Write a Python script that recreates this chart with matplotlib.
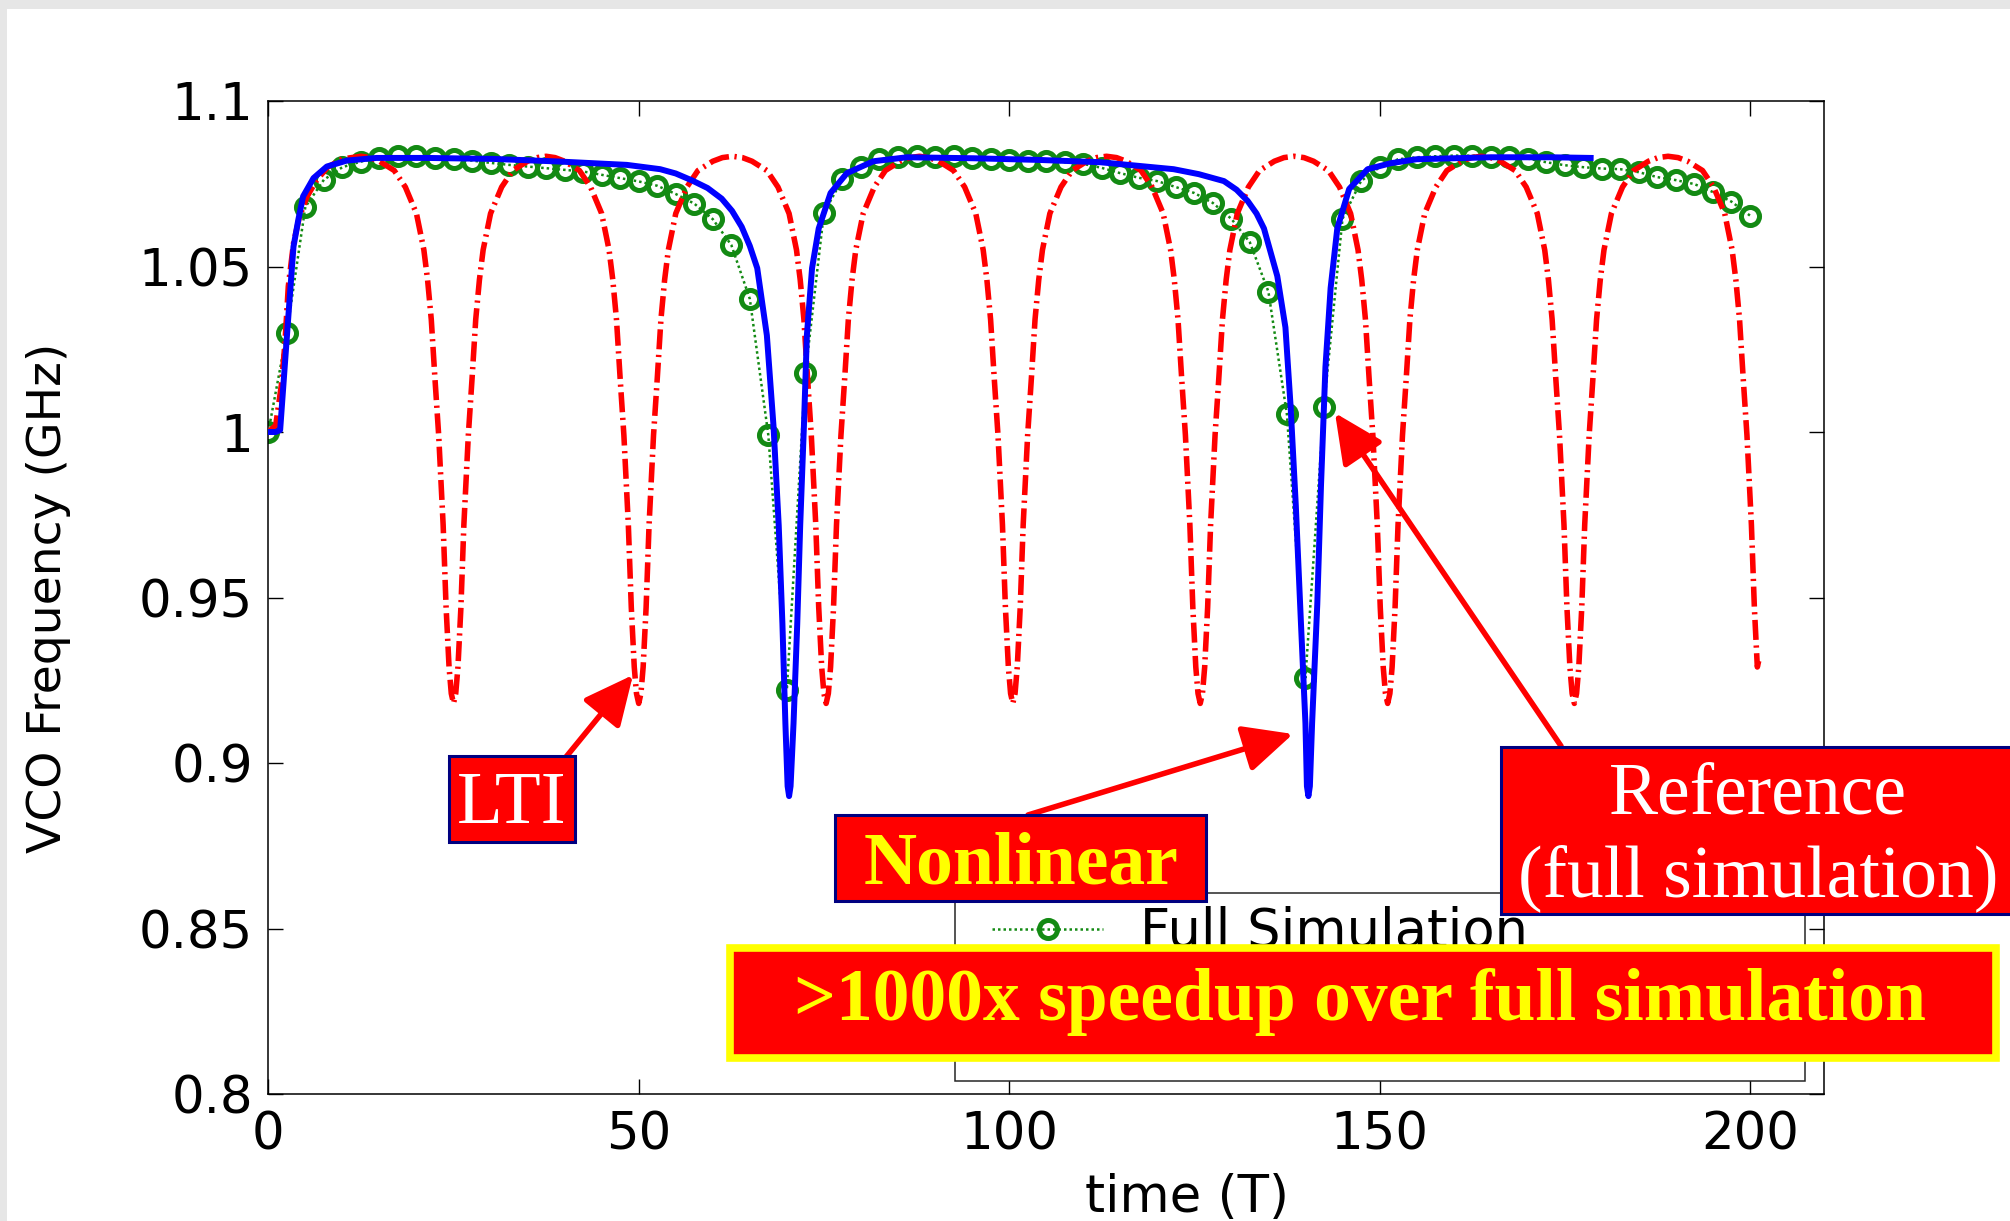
import matplotlib
matplotlib.use('Agg')
import matplotlib.pyplot as plt
import numpy as np
from matplotlib.patches import Rectangle, FancyArrowPatch

# ---------------- data ----------------
# full simulation: one marker every 2.5 T
full_t = np.arange(0, 202.5, 2.5)
full_f = [1.000, 1.030, 1.068, 1.0762, 1.080, 1.0817, 1.0828, 1.0833, 1.0833, 1.0828,
          1.0825, 1.0820, 1.0813, 1.0807, 1.0802, 1.0797, 1.0792, 1.0787, 1.0777, 1.0767,
          1.0757, 1.0744, 1.0719, 1.0690, 1.0643, 1.0565, 1.0402, 0.9990, 0.9222, 1.0177,
          1.0662, 1.0764, 1.0800, 1.0824, 1.0830, 1.0833, 1.0832, 1.0833, 1.0828, 1.0826,
          1.0823, 1.0820, 1.0818, 1.0815, 1.0810, 1.0798, 1.0782, 1.0768, 1.0758, 1.0740,
          1.0722, 1.0692, 1.0644, 1.0573, 1.0424, 1.0053, 0.9258, 1.0077, 1.0644, 1.0758,
          1.0800, 1.0824, 1.0830, 1.0833, 1.0835, 1.0835, 1.0832, 1.0830, 1.0826, 1.0815,
          1.0806, 1.0800, 1.0796, 1.0794, 1.0785, 1.0770, 1.0761, 1.0749, 1.0725, 1.0696,
          1.0654]

# nonlinear macromodel
nl_t = [0, 1.0, 1.6, 2.25, 2.9, 3.4, 4.05, 4.7, 6.1, 7.9,
        10.6, 14.6, 21.4, 30.4, 39.4, 48.4, 52.9, 55.0, 57.2, 59.3,
        61.2, 62.6, 63.9, 65.0, 66.0, 67.3, 68.2, 68.9, 69.4, 69.8,
        70.1, 70.3, 70.5, 70.9, 71.4, 71.8, 72.3, 72.7, 73.4, 74.3,
        75.9, 78.1, 81.7, 86.2, 95.2, 104.0, 112.3, 122.2, 125.6, 129.0,
        130.7, 132.2, 133.4, 134.4, 136.2, 137.3, 138.0, 138.7, 139.4, 140.0,
        140.2, 140.4, 140.6, 140.9, 141.6, 142.1, 142.7, 143.4, 144.3, 145.9,
        148.4, 151.5, 155.0, 165.0, 173.1, 178.5]
nl_f = [1.000, 1.000, 1.0006, 1.0208, 1.0409, 1.056, 1.0641, 1.0712, 1.0767, 1.0802,
        1.0820, 1.0828, 1.0828, 1.0825, 1.0817, 1.0807, 1.0794, 1.0781, 1.0760, 1.0737,
        1.0705, 1.0668, 1.0620, 1.0562, 1.0495, 1.0292, 1.0017, 0.9718, 0.9420, 0.9120,
        0.8930, 0.8900, 0.8930, 0.9120, 0.9420, 0.9718, 1.0017, 1.0292, 1.0495, 1.0615,
        1.0722, 1.0782, 1.0818, 1.0830, 1.0827, 1.0822, 1.0815, 1.0794, 1.0779, 1.0758,
        1.0732, 1.0698, 1.0660, 1.0615, 1.0471, 1.0316, 1.0077, 0.9778, 0.9420, 0.9120,
        0.8930, 0.8900, 0.8930, 0.9120, 0.9480, 0.9838, 1.0196, 1.0435, 1.0615, 1.0734,
        1.0794, 1.0812, 1.0824, 1.0830, 1.0830, 1.0828]

# LTI macromodel: start-up, then identical arches between the dips
lti_start_t = [0, 1.0, 1.8, 2.25, 2.7, 3.4, 4.2, 5.2, 6.5, 8.0, 10.0, 12.5]
lti_start_f = [1.000, 1.002, 1.0148, 1.027, 1.044, 1.057, 1.065, 1.071, 1.076, 1.080, 1.0825, 1.0833]
lti_dips = [25.0, 50.0, 75.3, 100.5, 125.8, 151.1, 176.3, 201.6]
arch_dt = [0.0, 0.3, 0.6, 1.0, 1.4, 2.0, 2.5, 3.0, 3.5, 4.0, 5.0, 6.5, 8.0, 10.0, 11.3]
arch_f = [0.918, 0.921, 0.929, 0.947, 0.972, 0.999, 1.016, 1.034, 1.046, 1.055, 1.066, 1.074, 1.079, 1.0818, 1.0829]
lti_peak = 1.0833
lti_end_t, lti_end_f = 201.2, 0.931

x_ticks = [0, 50, 100, 150, 200]
x_tick_labels = ['0', '50', '100', '150', '200']
y_ticks = [0.8, 0.85, 0.9, 0.95, 1.0, 1.05, 1.1]
y_tick_labels = ['0.8', '0.85', '0.9', '0.95', '1', '1.05', '1.1']

# build the LTI trace from the pieces above
lti_t, lti_f = list(lti_start_t), list(lti_start_f)
for k, m in enumerate(lti_dips):
    left = 12.5 if k == 0 else (lti_dips[k - 1] + m) / 2
    for dt, f in zip(arch_dt[::-1], arch_f[::-1]):
        if m - dt > left:
            lti_t.append(m - dt)
            lti_f.append(f)
    if k < len(lti_dips) - 1:
        right = (m + lti_dips[k + 1]) / 2
        for dt, f in zip(arch_dt[1:], arch_f[1:]):
            if m + dt < right:
                lti_t.append(m + dt)
                lti_f.append(f)
        lti_t.append(right)
        lti_f.append(lti_peak)
lti_t, lti_f = np.array(lti_t), np.array(lti_f)
keep = lti_t < lti_end_t
lti_t = np.append(lti_t[keep], lti_end_t)
lti_f = np.append(lti_f[keep], lti_end_f)

# ---------------- figure ----------------
W, H = 2010, 1221


def fx(x):
    return x / W


def fy(y):
    return 1 - y / H


fig = plt.figure(figsize=(W / 100, H / 100), dpi=100)
fig.patch.set_facecolor('#e6e6e6')
fig.add_artist(Rectangle((fx(7), 0), 1, fy(9), transform=fig.transFigure,
                         facecolor='white', edgecolor='none', zorder=-10))

ax = fig.add_axes([fx(268.3), fy(1094), 1555.7 / W, 993 / H])
green = '#138a13'
ax.plot(full_t, full_f, linestyle=(0, (1, 1.2)), lw=1.8, color=green,
        marker='o', ms=13, mfc='none', mec=green, mew=3.6, label='Full Simulation', zorder=2)
ax.plot(lti_t, lti_f, color='red', lw=4, linestyle=(0, (3.6, 1.0, 0.4, 1.0)),
        label='LTI macromodel', zorder=3)
ax.plot(nl_t, nl_f, color='blue', lw=4.3, label='Nonlinear macromodel', zorder=4)

ax.set_xlim(0, 210)
ax.set_ylim(0.8, 1.1)
ax.set_xticks(x_ticks)
ax.set_xticklabels(x_tick_labels)
ax.set_yticks(y_ticks)
ax.set_yticklabels(y_tick_labels)
ax.tick_params(direction='in', length=10.5, width=1, top=True, right=True, labelsize=37)
ax.tick_params(axis='x', pad=12)
ax.tick_params(axis='y', pad=11)
for s in ax.spines.values():
    s.set_linewidth(1.1)

ax.set_ylabel('VCO Frequency (GHz)', fontsize=34)
ax.yaxis.set_label_coords(-0.141, 0.5)
ax.yaxis.label.set_va('center')
ax.set_xlabel('time (T)', fontsize=37)
ax.xaxis.set_label_coords((1187 - 268.3) / 1555.7, (1094 - 1212) / 993)
ax.xaxis.label.set_va('baseline')

# legend (frame drawn separately to match the tight rows)
ax.add_patch(Rectangle((fx(955), fy(1081)), fx(1805) - fx(955), fy(893) - fy(1081),
                       transform=fig.transFigure, facecolor='white', edgecolor='#262626',
                       lw=1.1, zorder=4.5, clip_on=False))
ax.legend(loc='upper left', bbox_to_anchor=(fx(966), fy(880)), bbox_transform=fig.transFigure,
          frameon=False, fontsize=38, borderpad=0, handlelength=2.1, handletextpad=0.7,
          labelspacing=0.0, numpoints=1)

# ---------------- slide call-outs ----------------
serif = 'Liberation Serif'


def callout_box(x0, y0, x1, y1, edge, lw):
    fig.add_artist(Rectangle((fx(x0), fy(y1)), fx(x1) - fx(x0), fy(y0) - fy(y1),
                             transform=fig.transFigure, facecolor='#ff0000',
                             edgecolor=edge, lw=lw, zorder=6))


def arrow(x0, y0, x1, y1):
    fig.add_artist(FancyArrowPatch((fx(x0), fy(y0)), (fx(x1), fy(y1)), transform=fig.transFigure,
                                   arrowstyle='-|>,head_length=0.8,head_width=0.38',
                                   mutation_scale=38, lw=4, color='#ff0000',
                                   shrinkA=0, shrinkB=0, zorder=5))


arrow(566, 757, 633, 675)
arrow(1028, 815, 1293, 734)
arrow(1561, 746, 1335, 413)

callout_box(448.5, 755.5, 574.5, 841.5, '#000080', 2.2)
fig.text(fx(512), fy(823), 'LTI', ha='center', va='baseline', fontsize=54,
         family=serif, color='white', zorder=7)

callout_box(834.5, 814.5, 1206, 901, '#000080', 2.2)
fig.text(fx(1021), fy(883), 'Nonlinear', ha='center', va='baseline', fontsize=53,
         family=serif, weight='bold', color='#ffff00', zorder=7)

callout_box(1500.5, 746.5, 2030, 914, '#000080', 2.2)
fig.text(fx(1758), fy(813), 'Reference', ha='center', va='baseline', fontsize=53,
         family=serif, color='white', zorder=7)
fig.text(fx(1758), fy(896), '(full simulation)', ha='center', va='baseline', fontsize=53,
         family=serif, color='white', zorder=7)

callout_box(729.5, 947.5, 1995.5, 1057.5, '#ffff00', 5.5)
fig.text(fx(1360), fy(1020), '>1000x speedup over full simulation', ha='center',
         va='baseline', fontsize=53, family=serif, weight='bold', color='#ffff00', zorder=7)

fig.savefig('out.png', dpi=100, facecolor=fig.get_facecolor())
